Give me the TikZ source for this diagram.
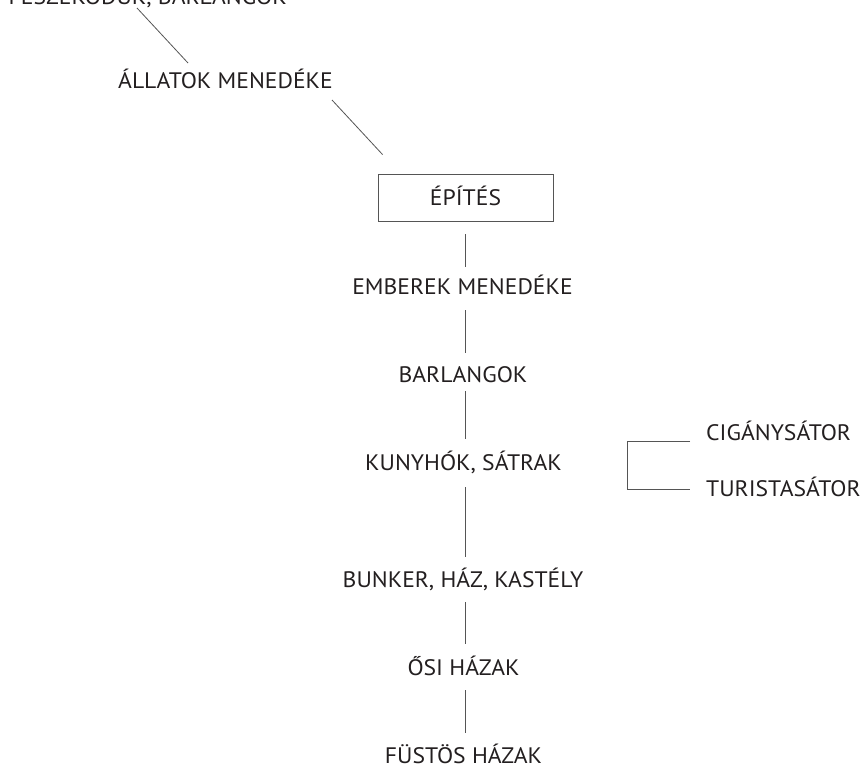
\documentclass[tikz,border=0pt]{standalone}
\usepackage{fontspec}
\setmainfont[FakeStretch=1.055]{PT Sans}
\usetikzlibrary{calc}
\definecolor{txt}{HTML}{231F20}
\definecolor{ln}{HTML}{555555}
\begin{document}
\begin{tikzpicture}[x=1pt,y=-1pt,
  lbl/.style={inner sep=0pt, text height=15pt, text depth=0pt, anchor=base,
    font=\fontsize{22.4}{24}\selectfont, text=txt},
  conn/.style={draw=ln, line width=0.8pt}]
\useasboundingbox (0,0) rectangle (861,766);
\clip (0,0) rectangle (861,766);
\fill[white] (0,0) rectangle (861,766);
% nodes
\node[lbl, anchor=base east] (top) at (287,4) {FÉSZEKODÚK, BARLANGOK};
\node[lbl] (all) at (225.5,88) {ÁLLATOK MENEDÉKE};
\node[lbl, anchor=center, draw=ln, line width=0.8pt, minimum width=175pt, minimum height=47pt] (epites) at (465.5,197.5) {ÉPÍTÉS};
\node[lbl] (emb) at (462.5,294) {EMBEREK MENEDÉKE};
\node[lbl] (bar) at (463,382) {BARLANGOK};
\node[lbl] (kun) at (463.5,470) {KUNYHÓK, SÁTRAK};
\node[lbl] (bun) at (463,587) {BUNKER, HÁZ, KASTÉLY};
\node[lbl] (osi) at (463.5,675) {ŐSI HÁZAK};
\node[lbl] (fus) at (463.5,763) {FÜSTÖS HÁZAK};
\node[lbl, anchor=base west] (cig) at (706,440) {CIGÁNYSÁTOR};
\node[lbl, anchor=base west] (tur) at (706,496) {TURISTASÁTOR};
% connectors
\draw[conn] ($(top.base east)+(-150,4)$) -- ($(all.base)+(-37.5,-25)$);
\draw[conn] ($(all.base)+(106.5,12)$) -- ($(epites.north west)+(5,-19)$);
\draw[conn, shorten <=13pt, shorten >=12pt] (epites.south) -- (epites.south |- emb.north);
\draw[conn, shorten <=16pt, shorten >=14pt] (emb.south -| epites.south) -- (epites.south |- bar.north);
\draw[conn, shorten <=9pt, shorten >=16pt] (bar.south -| epites.south) -- (epites.south |- kun.north);
\draw[conn, shorten <=17pt, shorten >=15pt] (kun.south -| epites.south) -- (epites.south |- bun.north);
\draw[conn, shorten <=15pt, shorten >=16pt] (bun.south -| epites.south) -- (epites.south |- osi.north);
\draw[conn, shorten <=15pt, shorten >=15pt] (osi.south -| epites.south) -- (epites.south |- fus.north);
\draw[conn] ($(cig.base west)+(-16,1)$) -- ++(-63,0) |- ($(tur.base west)+(-16,-7)$);
\end{tikzpicture}
\end{document}
